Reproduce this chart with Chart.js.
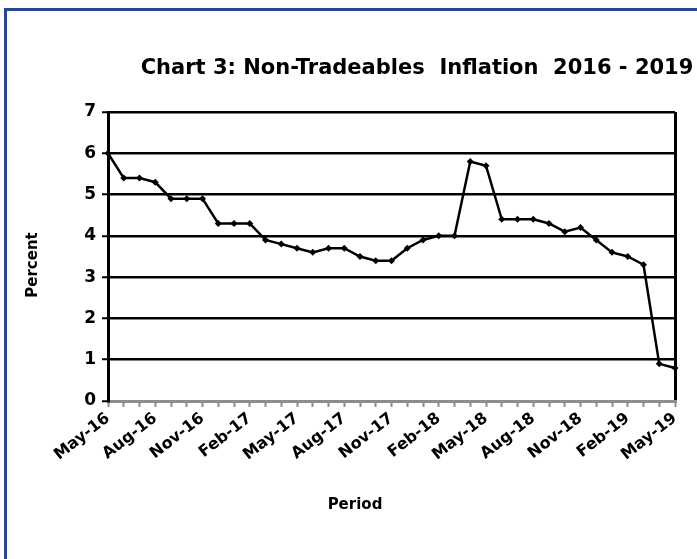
<!DOCTYPE html>
<html>
<head>
<meta charset="utf-8">
<script src="https://cdn.jsdelivr.net/npm/chart.js@4"></script>
<style>
  html, body { margin: 0; padding: 0; background: #fff; overflow: hidden; }
  #frame { position: absolute; left: 4px; top: 8px; width: 800px; height: 700px; border: 3px solid #2b4596; }
  #chart1 { position: absolute; left: 0; top: 0; }
</style>
</head>
<body>
<div id="frame"></div>
<canvas id="chart1" width="697" height="559"></canvas>
<script>
// months May-16 .. May-19
var periods = [
  'May-16', 'Jun-16', 'Jul-16', 'Aug-16', 'Sep-16', 'Oct-16', 'Nov-16', 'Dec-16', 'Jan-17', 'Feb-17',
  'Mar-17', 'Apr-17', 'May-17', 'Jun-17', 'Jul-17', 'Aug-17', 'Sep-17', 'Oct-17', 'Nov-17', 'Dec-17',
  'Jan-18', 'Feb-18', 'Mar-18', 'Apr-18', 'May-18', 'Jun-18', 'Jul-18', 'Aug-18', 'Sep-18', 'Oct-18',
  'Nov-18', 'Dec-18', 'Jan-19', 'Feb-19', 'Mar-19', 'Apr-19', 'May-19'
];

// non-tradeables inflation, percent
var inflation = [
  6.0, 5.4, 5.4, 5.3, 4.9, 4.9, 4.9, 4.3, 4.3, 4.3,
  3.9, 3.8, 3.7, 3.6, 3.7, 3.7, 3.5, 3.4, 3.4, 3.7,
  3.9, 4.0, 4.0, 5.8, 5.7, 4.4, 4.4, 4.4, 4.3, 4.1,
  4.2, 3.9, 3.6, 3.5, 3.3, 0.9, 0.8
];

var yTicks = [0, 1, 2, 3, 4, 5, 6, 7];

var font = 'DejaVu Sans';

// titles drawn at fixed spots, like the source sheet
var textPlugin = {
  id: 'texts',
  afterDraw: function(chart) {
    var ctx = chart.ctx;
    ctx.save();
    ctx.fillStyle = '#000';
    ctx.textBaseline = 'middle';
    ctx.textAlign = 'center';
    ctx.font = 'bold 21px "' + font + '"';
    ctx.fillText('Chart 3: Non-Tradeables  Inflation  2016 - 2019', 417, 69);
    ctx.font = 'bold 15px "' + font + '"';
    ctx.fillText('Period', 355, 505);
    ctx.translate(33, 265);
    ctx.rotate(-Math.PI / 2);
    ctx.fillText('Percent', 0, 0);
    ctx.restore();
  }
};

var canvas = document.getElementById('chart1');

var lineChart = new Chart(canvas, {
  type: 'line',
  data: {
    labels: periods,
    datasets: [{
      data: inflation,
      borderColor: '#000',
      borderWidth: 2.5,
      backgroundColor: '#000',
      pointStyle: 'rectRot',
      pointRadius: 3.5,
      pointBorderWidth: 0,
      tension: 0
    }]
  },
  options: {
    responsive: false,
    animation: false,
    layout: { padding: { left: 63, right: 22, top: 112, bottom: 0 } },
    plugins: {
      legend: { display: false },
      tooltip: { enabled: false },
      title: { display: false }
    },
    scales: {
      x: {
        offset: false,
        afterFit: function(s) { s.height = 158; s.paddingLeft = 0; s.paddingRight = 0; },
        border: { color: '#8c8c8c', width: 3 },
        grid: {
          color: function(c) { return c.index === periods.length - 1 ? '#000' : 'rgba(0,0,0,0)'; },
          lineWidth: 3,
          tickColor: '#8c8c8c',
          tickLength: 6,
          tickWidth: 2
        },
        ticks: {
          autoSkip: false,
          maxRotation: 38,
          minRotation: 38,
          padding: 2,
          color: '#000',
          font: { family: font, weight: 'bold', size: 16 },
          callback: function(v, i) { return i % 3 === 0 ? periods[i] : ''; }
        }
      },
      y: {
        min: yTicks[0],
        max: yTicks[yTicks.length - 1],
        afterFit: function(s) { s.width = 45; s.paddingTop = 0; s.paddingBottom = 0; },
        afterBuildTicks: function(s) { s.ticks = yTicks.map(function(v) { return { value: v }; }); },
        border: { color: '#000', width: 3 },
        grid: {
          color: function(c) { return c.tick && c.tick.value === 0 ? 'rgba(0,0,0,0)' : '#000'; },
          lineWidth: 2.5,
          tickColor: '#000',
          tickLength: 6,
          tickWidth: 2
        },
        ticks: {
          padding: 6,
          color: '#000',
          font: { family: font, weight: 'bold', size: 17 }
        }
      }
    }
  },
  plugins: [textPlugin]
});
</script>
</body>
</html>
